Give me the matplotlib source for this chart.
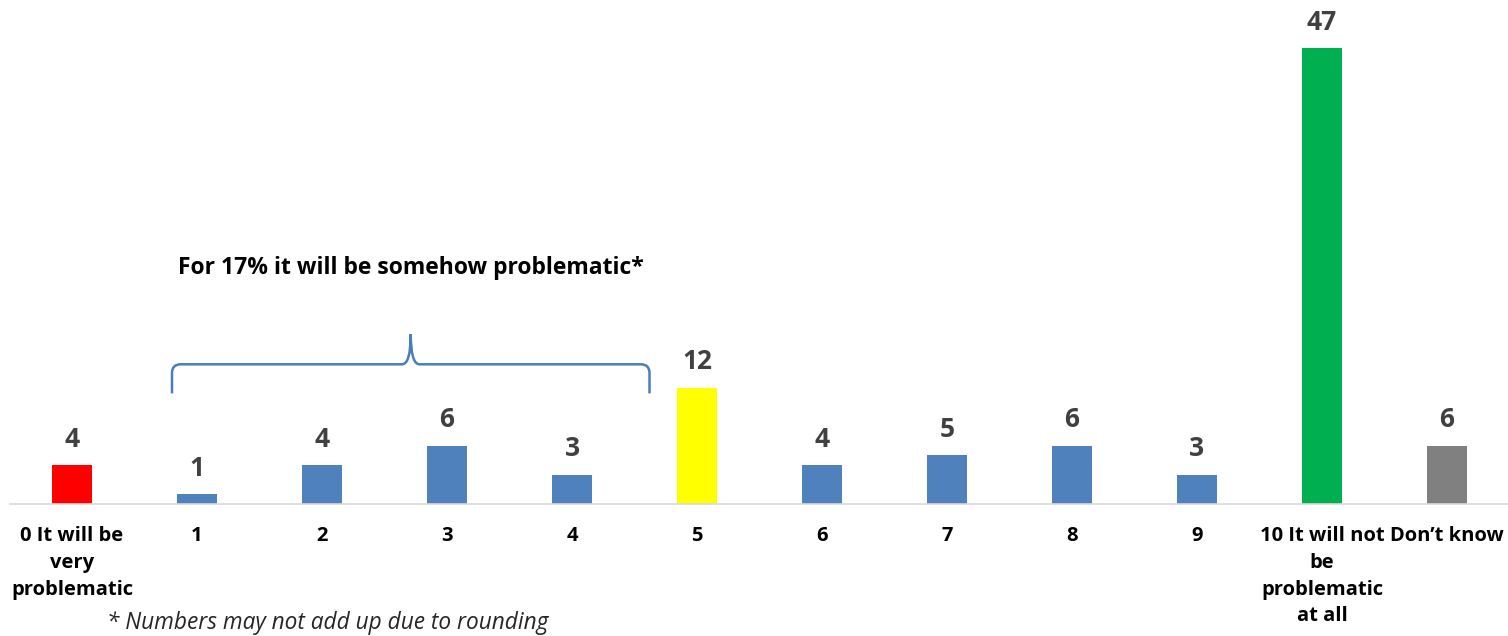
import matplotlib.pyplot as plt
from matplotlib.path import Path
from matplotlib.patches import PathPatch

# Data
categories = ['0 It will be\nvery\nproblematic', '1', '2', '3', '4', '5', '6', '7', '8', '9',
              '10 It will not\nbe\nproblematic\nat all', 'Don\u2019t know']
values = [4, 1, 4, 6, 3, 12, 4, 5, 6, 3, 47, 6]
colors = ['#FF0000', '#4F81BD', '#4F81BD', '#4F81BD', '#4F81BD', '#FFFF00',
          '#4F81BD', '#4F81BD', '#4F81BD', '#4F81BD', '#00B050', '#808080']
note = 'For 17% it will be somehow problematic*'
footnote = '* Numbers may not add up due to rounding'

plt.rcParams['font.family'] = ['Open Sans', 'DejaVu Sans']

fig = plt.figure(figsize=(15.08, 6.36), dpi=100)
ax = fig.add_axes([9.5 / 1508, 132 / 636, 1500 / 1508, 504 / 636])

x = list(range(len(categories)))
bars = ax.bar(x, values, width=0.32, color=colors)
ax.bar_label(bars, labels=[str(v) for v in values], padding=9,
             fontsize=19, fontweight='bold', color='#404040')

ax.set_xlim(-0.5, len(categories) - 0.5)
ax.set_ylim(0, 47 * 504 / 456)
ax.set_xticks(x)
ax.set_xticklabels(categories, fontsize=14.5, fontweight='bold', color='black',
                   linespacing=1.45, va='top')
ax.tick_params(axis='x', length=0, pad=16)
ax.set_yticks([])
for side in ['top', 'left', 'right']:
    ax.spines[side].set_visible(False)
ax.spines['bottom'].set_color('#D9D9D9')
ax.spines['bottom'].set_linewidth(1.2)

# Curly brace over categories 1-4
x0, x1 = 0.8, 4.62
xm = (x0 + x1) / 2
y_end, y_flat, y_tip = 11.4, 14.4, 17.5
rx, ry = 0.07, 0.9
verts = [(x0, y_end), (x0, y_flat - ry), (x0, y_flat), (x0 + rx, y_flat),
         (xm - rx, y_flat), (xm, y_flat), (xm, y_tip),
         (xm, y_flat), (xm + rx, y_flat),
         (x1 - rx, y_flat), (x1, y_flat), (x1, y_flat - ry), (x1, y_end)]
codes = [Path.MOVETO, Path.LINETO, Path.CURVE3, Path.CURVE3,
         Path.LINETO, Path.CURVE3, Path.CURVE3,
         Path.CURVE3, Path.CURVE3,
         Path.LINETO, Path.CURVE3, Path.CURVE3, Path.LINETO]
ax.add_patch(PathPatch(Path(verts, codes), fill=False, edgecolor='#4A7EBB',
                       linewidth=1.8, clip_on=False))

ax.text(xm, 24.3, note, ha='center', va='center', fontsize=16.5,
        fontweight='bold', color='black')

fig.text(107 / 1508, 1 - 623 / 636, footnote, ha='left', va='center',
         fontsize=16.3, style='italic', color='#262626')

fig.savefig('out.png', dpi=100)
